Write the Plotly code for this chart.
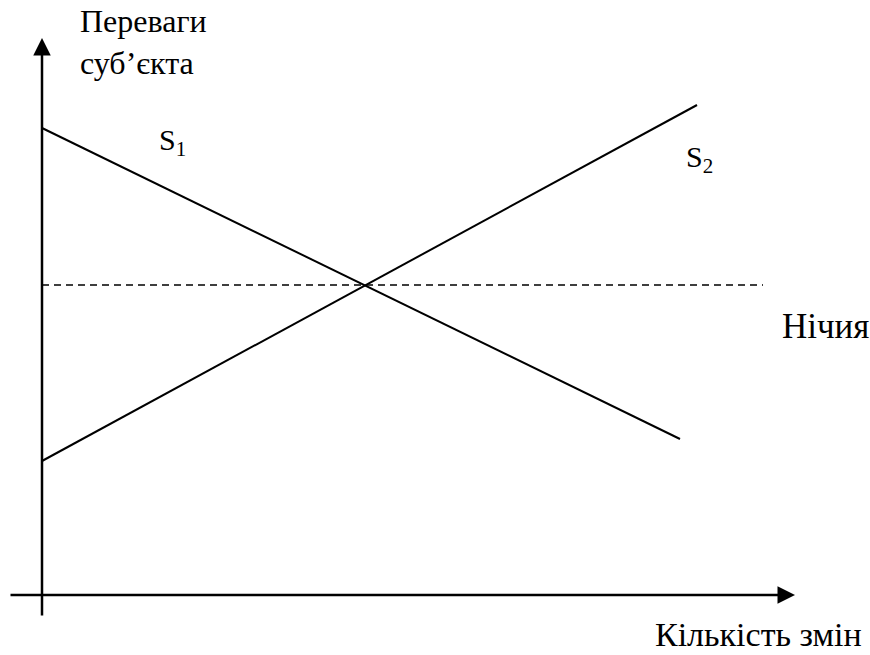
import plotly.graph_objects as go

# Data (arbitrary units, origin where the axes cross)
s1_x = [0, 63.8]
s1_y = [46.7, 15.6]
s2_x = [0, 65.5]
s2_y = [13.4, 49.0]
draw_x = [0, 72.1]
draw_y = [31.0, 31.0]

SERIF = "'Liberation Serif', 'Times New Roman', serif"


def font(size):
    return dict(family=SERIF, size=size, color="#000000")


fig = go.Figure()

# S1 falling, S2 rising, dashed "draw" level
fig.add_trace(go.Scatter(x=s1_x, y=s1_y, mode="lines",
                         line=dict(color="#000000", width=2), name="S1"))
fig.add_trace(go.Scatter(x=s2_x, y=s2_y, mode="lines",
                         line=dict(color="#000000", width=2), name="S2"))
fig.add_trace(go.Scatter(x=draw_x, y=draw_y, mode="lines",
                         line=dict(color="#000000", width=1.6, dash="7px,5px"),
                         name="Нічия"))

# ── axes drawn as arrows ──────────────────────────────────────────────────────
fig.add_annotation(x=75.3, y=0, ax=-3.3, ay=0, xref="x", yref="y", axref="x", ayref="y",
                   text="", showarrow=True, arrowhead=2, arrowsize=1.4,
                   arrowwidth=2.5, arrowcolor="#000000")
fig.add_annotation(x=0, y=55.7, ax=0, ay=-2.2, xref="x", yref="y", axref="x", ayref="y",
                   text="", showarrow=True, arrowhead=2, arrowsize=1.4,
                   arrowwidth=2.5, arrowcolor="#000000")

# ── labels ────────────────────────────────────────────────────────────────────
fig.add_annotation(x=3.6, y=55.3, xref="x", yref="y", xanchor="left", yanchor="middle",
                   text="Переваги<br>суб’єкта", showarrow=False, font=font(32), align="left")
fig.add_annotation(x=13.0, y=45.3, xref="x", yref="y", text="S<sub>1</sub>",
                   showarrow=False, font=font(30))
fig.add_annotation(x=65.7, y=43.6, xref="x", yref="y", text="S<sub>2</sub>",
                   showarrow=False, font=font(30))
fig.add_annotation(x=78.3, y=26.9, xref="x", yref="y", text="Нічия",
                   showarrow=False, font=font(35))
fig.add_annotation(x=71.6, y=0, xref="x", yref="paper", yanchor="bottom",
                   text="Кількість змін", showarrow=False, font=font(34))

fig.update_layout(
    width=870, height=655,
    margin=dict(l=0, r=0, t=0, b=0),
    plot_bgcolor="#ffffff", paper_bgcolor="#ffffff",
    showlegend=False,
    xaxis=dict(range=[-4.2, 82.8], visible=False, fixedrange=True),
    yaxis=dict(range=[-6.0, 59.5], visible=False, fixedrange=True),
)

# drop the default page margin so the figure sits at the window's corner
fig.write_html("out.html", config={"displayModeBar": False},
               post_script="document.body.style.margin='0';")
